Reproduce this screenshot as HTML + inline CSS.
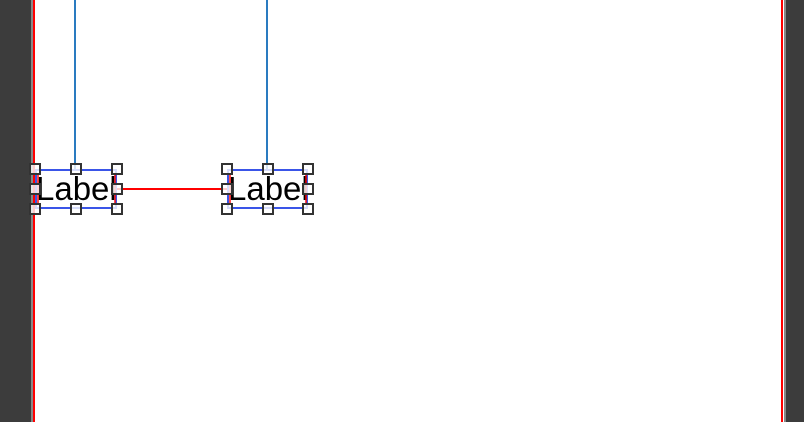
<!DOCTYPE html>
<html><head><meta charset="utf-8"><style>
body{margin:0;width:804px;height:422px;overflow:hidden;background:#fff;position:relative;font-family:"Liberation Sans",sans-serif}
div{position:absolute;box-sizing:border-box}
.h{width:12px;height:12px;border:2px solid #333;background:rgba(255,255,255,.8)}
.lbl{font-size:33px;color:#000;line-height:40px;white-space:nowrap}
</style></head><body>
<div style="left:0;top:0;width:32px;height:422px;background:#3c3c3c"></div>
<div style="left:31px;top:0;width:2px;height:422px;background:#888"></div>
<div style="left:33px;top:0;width:2px;height:422px;background:#f00"></div>
<div style="left:786px;top:0;width:18px;height:422px;background:#3c3c3c"></div>
<div style="left:784px;top:0;width:2px;height:422px;background:#888"></div>
<div style="left:781px;top:0;width:2px;height:422px;background:#f00"></div>

<div style="left:74px;top:0;width:2px;height:169px;background:#2a7bc0"></div>
<div style="left:266px;top:0;width:2px;height:169px;background:#2a7bc0"></div>
<div style="left:117px;top:188px;width:110px;height:2px;background:#f00"></div>

<div style="left:35px;top:169px;width:82px;height:40px;border:2px solid #3a55e8">
  <div class="lbl" style="left:-1px;top:-2px">Label</div>
  <div style="left:0;top:4px;width:2px;height:30px;background:#f00;opacity:.7"></div>
  <div style="left:77px;top:4px;width:2px;height:30px;background:#f00;opacity:.7"></div>
</div>
<div style="left:227px;top:169px;width:81px;height:40px;border:2px solid #3a55e8">
  <div class="lbl" style="left:-1px;top:-2px">Label</div>
  <div style="left:0;top:4px;width:2px;height:30px;background:#f00;opacity:.7"></div>
  <div style="left:76px;top:4px;width:2px;height:30px;background:#f00;opacity:.7"></div>
</div>
<script>
var boxes=[[35,117],[227,308]];
var ys=[169,189,209];
boxes.forEach(function(b){
  var xs=[b[0],(b[0]+b[1])/2,b[1]];
  ys.forEach(function(y,yi){xs.forEach(function(x,xi){
    if(yi==1&&xi==1)return;
    var h=document.createElement('div');
    h.className='h';
    h.style.left=Math.round(x-6)+'px';h.style.top=(y-6)+'px';
    
    
    document.body.appendChild(h);
  });});
});
</script>
</body></html>
